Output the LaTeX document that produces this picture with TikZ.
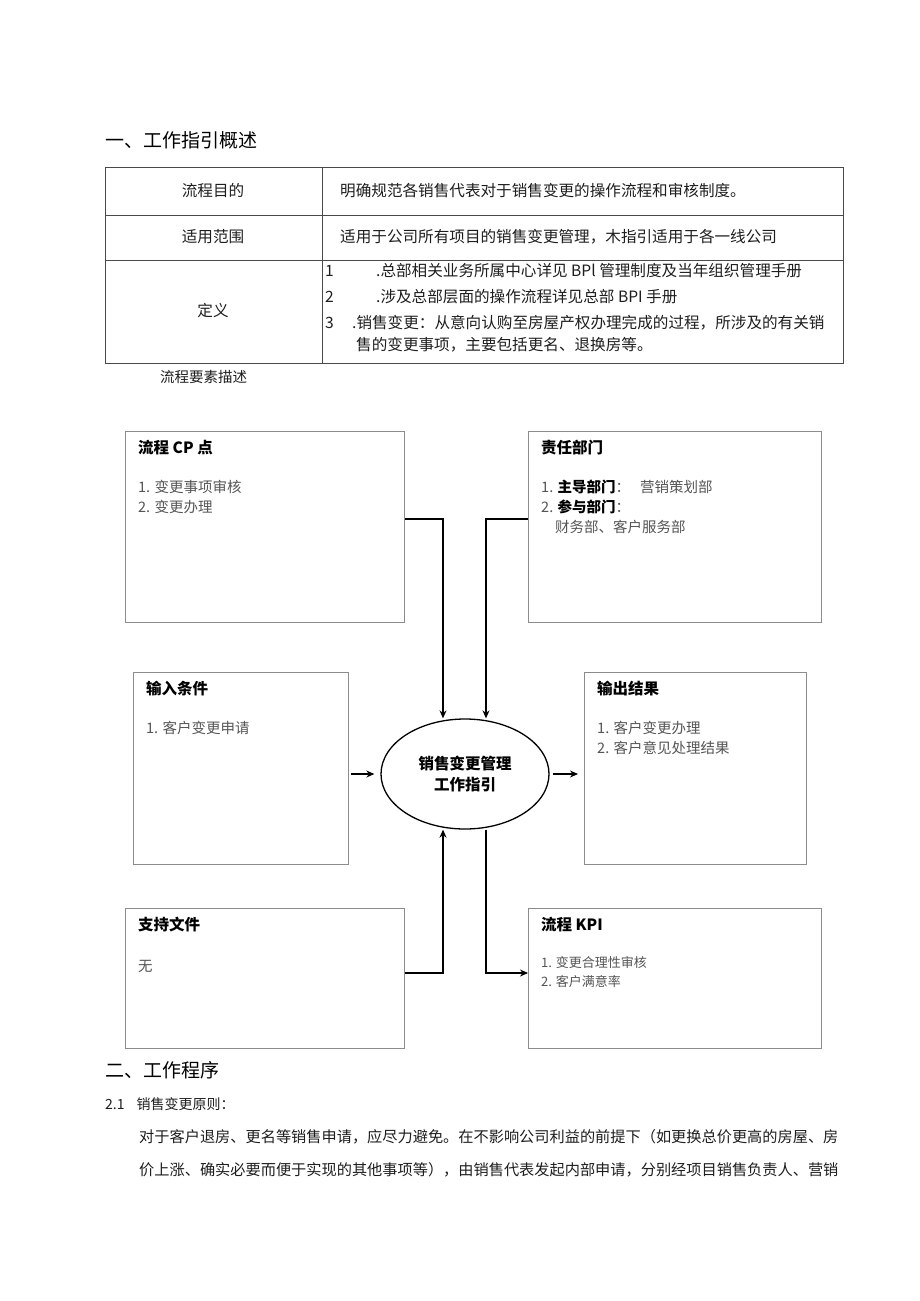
\documentclass[tikz,border=0pt]{standalone}
\usepackage{fontspec}
\setmainfont{Noto Sans CJK SC}
\usetikzlibrary{shapes.geometric,calc,arrows.meta}
\definecolor{tline}{HTML}{4A4A4A}
\definecolor{bline}{HTML}{8C8C8C}
\definecolor{itemc}{HTML}{555555}
\definecolor{txt}{HTML}{1E1E1E}
\tikzset{
  tx/.style={anchor=west,inner sep=0pt,text=txt,font=\fontsize{15.6}{18}\selectfont},
  hd/.style={anchor=west,inner sep=0pt,text=black,font=\fontsize{19}{22}\selectfont},
  bxtitle/.style={anchor=west,inner sep=0pt,text=black,font=\fontsize{15.5}{18}\selectfont\bfseries},
  bxitem/.style={anchor=west,inner sep=0pt,text=itemc,font=\fontsize{14.5}{18}\selectfont},
  bxsmall/.style={anchor=west,inner sep=0pt,text=itemc,font=\fontsize{13}{16}\selectfont},
  infobox/.style={draw=bline,line width=1.4pt,anchor=north west,inner sep=0pt},
  arr/.style={draw=black,line width=1.2pt,-{Stealth[length=8pt,width=7pt]}},
}
\begin{document}
\begin{tikzpicture}[x=1pt,y=-1pt]
\useasboundingbox[fill=white] (0,0) rectangle (920,1301);

% heading
\node[hd] (h1) at (105,140) {一、工作指引概述};

% table
\draw[tline,line width=0.9pt] (105,167) rectangle (843,363);
\draw[tline,line width=0.9pt] (105,215) -- (843,215);
\draw[tline,line width=0.9pt] (105,260) -- (843,260);
\draw[tline,line width=0.9pt] (322,167) -- (322,363);

\node[tx,anchor=center] (r1a) at (213,191) {流程目的};
\node[tx] (r1b) at (340,191) {明确规范各销售代表对于销售变更的操作流程和审核制度。};
\node[tx,anchor=center] (r2a) at (213,237) {适用范围};
\node[tx] (r2b) at (340,237) {适用于公司所有项目的销售变更管理，木指引适用于各一线公司};
\node[tx,anchor=center] (r3a) at (213,311) {定义};
\node[tx] (n1) at (325,271) {1};
\node[tx] (d1) at (376,271) {.总部相关业务所属中心详见 BPl 管理制度及当年组织管理手册};
\node[tx] (n2) at (325,297) {2};
\node[tx] (d2) at (376,297) {.涉及总部层面的操作流程详见总部 BPI 手册};
\node[tx] (n3) at (325,323) {3};
\node[tx] (d3) at (352,323) {.销售变更：从意向认购至房屋产权办理完成的过程，所涉及的有关销};
\node[tx] (d4) at (356,345) {售的变更事项，主要包括更名、退换房等。};

\node[tx,font=\fontsize{14.5}{18}\selectfont] (sub) at (160,377) {流程要素描述};

% boxes
\node[infobox,minimum width=279pt,minimum height=191pt] (cp) at (125,431) {};
\node[bxtitle] (cpt) at (138,448) {流程 CP 点};
\node[bxitem] (cp1) at (138,487) {1. 变更事项审核};
\node[bxitem] (cp2) at (138,507) {2. 变更办理};

\node[infobox,minimum width=293pt,minimum height=191pt] (dept) at (528,431) {};
\node[bxtitle] (dt) at (541,448) {责任部门};
\node[bxitem] (d1i) at (541,487) {1. \textbf{\color{black}主导部门}：\hspace{10pt}营销策划部};
\node[bxitem] (d2i) at (541,507) {2. \textbf{\color{black}参与部门}：};
\node[bxitem] (d3i) at (555,527) {财务部、客户服务部};

\node[infobox,minimum width=215pt,minimum height=192pt] (in) at (133,672) {};
\node[bxtitle] (int) at (146,689) {输入条件};
\node[bxitem] (in1) at (146,728) {1. 客户变更申请};

\node[infobox,minimum width=222pt,minimum height=192pt] (out) at (584,672) {};
\node[bxtitle] (outt) at (597,689) {输出结果};
\node[bxitem] (out1) at (597,728) {1. 客户变更办理};
\node[bxitem] (out2) at (597,748) {2. 客户意见处理结果};

\node[infobox,minimum width=279pt,minimum height=140pt] (sup) at (125,908) {};
\node[bxtitle] (supt) at (138,925) {支持文件};
\node[bxitem] (sup1) at (138,966) {无};

\node[infobox,minimum width=293pt,minimum height=140pt] (kpi) at (528,908) {};
\node[bxtitle] (kpit) at (541,925) {流程 KPI};
\node[bxsmall] (kpi1) at (541,963) {1. 变更合理性审核};
\node[bxsmall] (kpi2) at (541,982) {2. 客户满意率};

% center ellipse
\node[ellipse,draw=black,line width=1.3pt,minimum width=168pt,minimum height=110pt,inner sep=0pt,
      font=\fontsize{15.5}{21}\selectfont\bfseries,align=center] (ell) at (465,774) {销售变更管理\\工作指引};

% connectors
\draw[arr] ([yshift=-88pt]cp.north east) -| ([xshift=-22pt]ell.north);
\draw[arr] ([yshift=-88pt]dept.north west) -| ([xshift=21pt]ell.north);
\draw[arr] ([yshift=-65pt]sup.north east) -| ([xshift=-22pt]ell.south);
\draw[arr] ([xshift=21pt]ell.south) |- ([yshift=-65pt]kpi.north west);
\draw[arr] ($(in.east |- ell.west)+(2,0)$) -- ($(ell.west)+(-6,0)$);
\draw[arr] ($(ell.east)+(3,0)$) -- ($(out.west |- ell.east)+(-6,0)$);

% bottom text
\node[hd] (h2) at (105,1070) {二、工作程序};
\node[tx,font=\fontsize{14}{18}\selectfont] (s21) at (105,1104) {2.1\hspace{12pt}销售变更原则：};
\node[tx,font=\fontsize{15.2}{18}\selectfont] (p1) at (139,1137) {对于客户退房、更名等销售申请，应尽力避免。在不影响公司利益的前提下（如更换总价更高的房屋、房};
\node[tx,font=\fontsize{15.2}{18}\selectfont] (p2) at (139,1170) {价上涨、确实必要而便于实现的其他事项等），由销售代表发起内部申请，分别经项目销售负责人、营销};
\end{tikzpicture}
\end{document}
